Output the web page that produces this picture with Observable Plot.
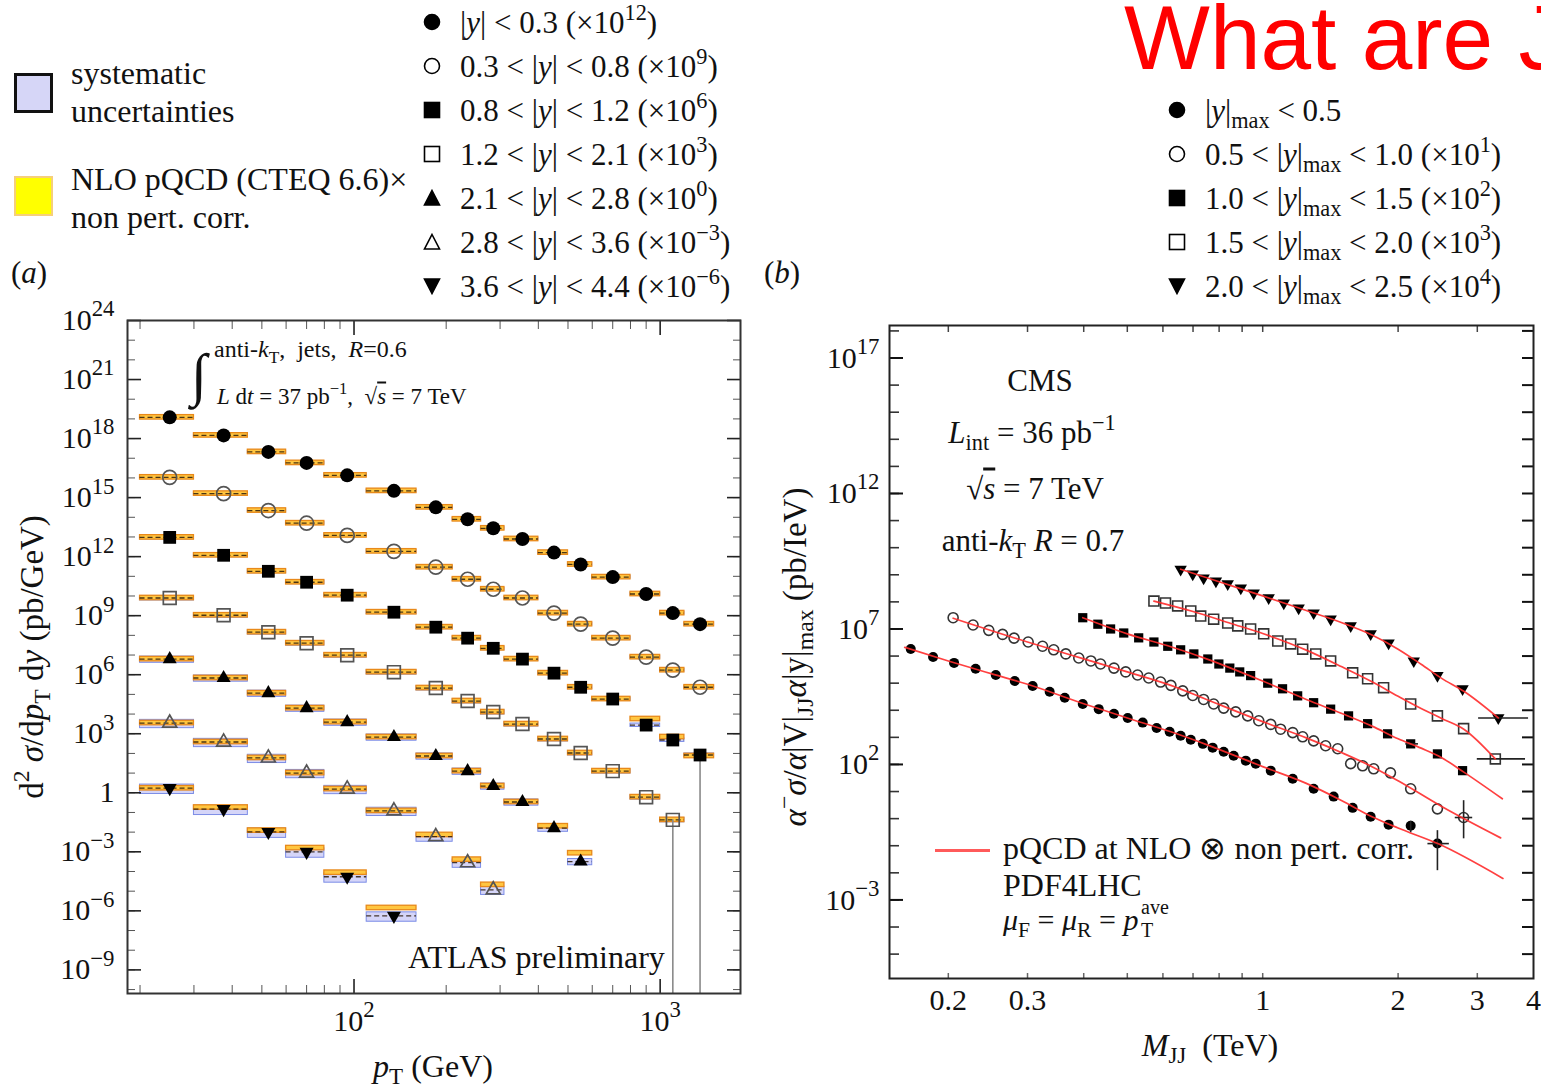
<!DOCTYPE html>
<html><head><meta charset="utf-8">
<script src="https://cdn.jsdelivr.net/npm/d3@7"></script>
<script src="https://cdn.jsdelivr.net/npm/@observablehq/plot@0.6"></script>
<style>
body{margin:0;background:#fff;}
#page{position:relative;width:1541px;height:1089px;overflow:hidden;font-family:"Liberation Serif","Times New Roman",serif;color:#111;background:#fff;}
.t{position:absolute;white-space:nowrap;line-height:1;}
.t sup,.t sub{font-size:0.72em;line-height:0;}
.t sup{vertical-align:0.55em;}
.t sub{vertical-align:-0.32em;}
.abs{position:absolute;}
</style></head>
<body><div id="page"></div>
<script>
// ================= Panel (a): ATLAS inclusive jets =================
const ptEdges = [20,30,45,60,80,110,160,210,260,310,400,500,600,800,1000,1200,1500];
const rapLabelsA = ["|<i>y</i>| &lt; 0.3","0.3 &lt; |<i>y</i>| &lt; 0.8","0.8 &lt; |<i>y</i>| &lt; 1.2","1.2 &lt; |<i>y</i>| &lt; 2.1","2.1 &lt; |<i>y</i>| &lt; 2.8","2.8 &lt; |<i>y</i>| &lt; 3.6","3.6 &lt; |<i>y</i>| &lt; 4.4"];
const scaleExpA = ["12","9","6","3","0","\u22123","\u22126"];
// measured points (already multiplied by the scale factor)
const dataA1 = [1.2e19,1.45e18,2.1e17,5.8e16,1.35e16,2.2e15,3.2e14,7.9e13,2.75e13,7.9e12,1.6e12,4.0e11,9.1e10,1.26e10,1.35e9,3.7e8];
const dataA2 = [1.07e16,1.6e15,2.2e14,5.0e13,1.2e13,1.86e12,2.9e11,7.1e10,2.2e10,7.9e9,1.35e9,3.7e8,7.2e7,7.8e6,1.7e6,2.3e5];
const dataA3 = [9.5e12,1.17e12,1.8e11,5.0e10,1.1e10,1.5e9,2.6e8,7.2e7,2.2e7,6.2e6,1.2e6,2.3e5,5.8e4,2.75e3,480,83];
const dataA4 = [7.9e9,1.05e9,1.45e8,4.0e7,9.8e6,1.35e6,2.1e5,4.6e4,1.26e4,3.1e3,540,105,12.6,0.6,0.042];
const dataA5 = [6.2e6,6.8e5,1.15e5,2.0e4,3.9e3,680,74,12.6,2.2,0.34,0.016,3.2e-4];
const dataA6 = [3.5e3,380,59,10,1.55,0.12,5.9e-3,2.8e-4,1.17e-5];
const dataA7 = [1.74,0.148,0.0102,1.0e-3,5.4e-5,5.6e-7];
// NLO pQCD x non-pert. corrections
const nloA1 = [1.2e19,1.45e18,2.1e17,5.8e16,1.35e16,2.2e15,3.2e14,7.9e13,2.75e13,7.9e12,1.6e12,4.0e11,9.1e10,1.26e10,1.35e9,3.7e8];
const nloA2 = [1.07e16,1.6e15,2.2e14,5.0e13,1.2e13,1.86e12,2.9e11,7.1e10,2.2e10,7.9e9,1.35e9,3.7e8,7.2e7,7.8e6,1.7e6,2.3e5];
const nloA3 = [9.5e12,1.17e12,1.8e11,5.0e10,1.1e10,1.5e9,2.6e8,7.2e7,2.2e7,6.2e6,1.2e6,2.3e5,5.8e4,5.6e3,680,74];
const nloA4 = [7.9e9,1.05e9,1.45e8,4.0e7,9.8e6,1.35e6,2.1e5,4.6e4,1.26e4,3.1e3,540,105,12.6,0.6,0.042];
const nloA5 = [6.2e6,6.8e5,1.15e5,2.0e4,3.9e3,680,74,12.6,2.2,0.34,0.02,8.5e-4];
const nloA6 = [3.5e3,380,59,10,1.55,0.12,7.2e-3,4.0e-4,2.1e-5];
const nloA7 = [1.7,0.178,0.012,1.55e-3,8.7e-5,1.4e-6];
// relative systematic uncertainty per rapidity bin
const sysRelA = [0.15,0.15,0.2,0.25,0.35,0.45,0.5];
// points whose lower error reaches zero: [series index, bin index]
const errToZeroA = [[3,14],[2,15]];

// ================= Panel (b): CMS dijet mass =================
const rapLabelsB = ["|<i>y</i>|<sub>max</sub> &lt; 0.5","0.5 &lt; |<i>y</i>|<sub>max</sub> &lt; 1.0","1.0 &lt; |<i>y</i>|<sub>max</sub> &lt; 1.5","1.5 &lt; |<i>y</i>|<sub>max</sub> &lt; 2.0","2.0 &lt; |<i>y</i>|<sub>max</sub> &lt; 2.5"];
const scaleExpB = [null,"1","2","3","4"];
const mjjB1 = [0.165,0.185,0.206,0.230,0.255,0.281,0.308,0.336,0.363,0.398,0.432,0.467,0.501,0.541,0.581,0.621,0.657,0.692,0.736,0.774,0.819,0.862,0.917,0.965,1.042,1.166,1.298,1.438,1.585,1.738,1.905,2.133,2.446];
const valB1 = [1.82e6,9.3e5,5.6e5,3.4e5,2.0e5,1.2e5,7.9e4,4.8e4,2.9e4,1.7e4,1.1e4,7.4e3,5.2e3,3.5e3,2.2e3,1.6e3,1.15e3,810,575,417,295,209,138,107,59,29.5,12.6,6.5,2.5,1.17,0.60,0.55,0.12];
const mjjB2 = [0.205,0.227,0.246,0.264,0.280,0.301,0.324,0.343,0.365,0.390,0.415,0.436,0.467,0.496,0.527,0.558,0.593,0.625,0.664,0.699,0.739,0.778,0.819,0.871,0.926,0.980,1.042,1.096,1.166,1.227,1.298,1.380,1.468,1.569,1.668,1.765,1.923,2.133,2.446,2.797];
const valB2 = [2.6e7,1.4e7,8.9e6,6.3e6,4.6e6,3.3e6,2.3e6,1.7e6,1.2e6,8.5e5,6.6e5,5.1e5,3.6e5,2.6e5,2.0e5,1.55e5,1.1e5,8.3e4,5.2e4,3.5e4,2.5e4,1.7e4,1.2e4,8.7e3,6.2e3,4.1e3,3.0e3,2.0e3,1.5e3,1.05e3,740,490,380,107,89,69,49,12.6,2.3,1.1];
const mjjB3 = [0.398,0.430,0.459,0.491,0.530,0.573,0.615,0.657,0.703,0.755,0.799,0.845,0.889,0.940,1.026,1.107,1.196,1.298,1.416,1.552,1.711,1.895,2.133,2.446,2.782];
const valB3 = [2.6e7,1.5e7,1.0e7,7.1e6,4.7e6,3.3e6,2.3e6,1.7e6,1.2e6,7.8e5,5.1e5,3.6e5,2.6e5,1.9e5,1.0e5,6.2e4,3.4e4,1.9e4,1.1e4,6.2e3,3.2e3,1.35e3,575,245,59];
const mjjB4 = [0.573,0.608,0.647,0.692,0.728,0.778,0.836,0.880,0.940,1.005,1.080,1.154,1.227,1.312,1.416,1.585,1.711,1.857,2.133,2.446,2.797,3.29];
const valB4 = [1.07e8,9.1e7,7.1e7,4.6e7,3.0e7,2.3e7,1.66e7,1.3e7,1.0e7,6.6e6,3.6e6,2.8e6,1.8e6,1.2e6,6.6e5,2.4e5,1.45e5,6.8e4,1.7e4,6.2e3,2.1e3,160];
const mjjB5 = [0.657,0.699,0.739,0.787,0.836,0.894,0.955,1.031,1.114,1.202,1.298,1.416,1.569,1.738,1.905,2.167,2.446,2.782,3.34];
const valB5 = [1.6e9,1.07e9,7.6e8,5.9e8,4.6e8,3.2e8,2.1e8,1.4e8,9.1e7,5.9e7,3.9e7,2.3e7,1.3e7,6.6e6,3.0e6,6.6e5,1.9e5,6.2e4,5.2e3];
// pQCD NLO x non-pert. corrections (red curves)
const thMB1 = [0.16,0.2,0.25,0.3,0.4,0.5,0.625,0.75,1.0,1.25,1.5,1.75,2.0,2.45,3.42];
const thVB1 = [2.1e6,6.6e5,2.2e5,9.1e4,1.74e4,5.2e3,1.6e3,540,83,20,4.6,1.17,0.45,0.12,6.2e-3];
const thMB2 = [0.205,0.3,0.4,0.5,0.625,0.75,1.0,1.25,1.5,1.75,2.0,2.5,3.38];
const thVB2 = [2.5e7,3.3e6,7.9e5,2.6e5,8.3e4,2.5e4,3.8e3,955,270,83,25,2.8,0.195];
const thMB3 = [0.398,0.5,0.625,0.75,1.0,1.25,1.5,1.75,2.0,2.25,2.5,2.8,3.41];
const thVB3 = [2.6e7,6.6e6,2.2e6,7.9e5,1.2e5,2.5e4,7.6e3,2.6e3,890,400,178,52,5.4];
const thMB4 = [0.573,0.7,0.85,1.0,1.25,1.5,1.75,2.0,2.25,2.5,2.8,3.29];
const thVB4 = [1.07e8,4.4e7,1.6e7,6.8e6,1.66e6,4.0e5,1.12e5,3.3e4,1.17e4,5.0e3,2.0e3,160];
const thMB5 = [0.657,0.8,1.0,1.25,1.5,1.75,2.0,2.25,2.5,2.8,3.34];
const thVB5 = [1.6e9,5.5e8,1.66e8,4.8e7,1.7e7,6.0e6,1.8e6,5.0e5,1.5e5,5.0e4,5.2e3];
// error bars
const errVB = [{m:2.446,lo:0.012,hi:0.36},{m:2.797,lo:0.18,hi:4.6},{m:2.133,lo:0.3,hi:0.8}];
const errHB = [{v:5.2e3,m1:3.02,m2:3.9},{v:160,m1:3.0,m2:3.84},{v:0.12,m1:2.33,m2:2.6},{v:1.1,m1:2.68,m2:2.93},{v:575,m1:2.08,m2:2.22}];

// ================= helpers =================
const SERIF = '"Liberation Serif","Times New Roman",serif';
const page = document.getElementById("page");
const sq3 = Math.sqrt(3);
const triDown = {draw(ctx, size){ const y = -Math.sqrt(size/(sq3*3)); ctx.moveTo(0,-y*2); ctx.lineTo(-sq3*y, y); ctx.lineTo(sq3*y, y); ctx.closePath(); }};
const fmtPow = d => { const e = Math.round(Math.log10(d)); return e === 0 ? "1" : "10^" + (e < 0 ? "\u2212" + (-e) : e); };
const blank = () => "";

function supify(svg){
  d3.select(svg).selectAll('g[aria-label$="tick label"] text').each(function(){
    const s = this.textContent; const i = s.indexOf("^");
    if (i < 0) return;
    const el = d3.select(this); el.text(null);
    el.append("tspan").text(s.slice(0,i));
    el.append("tspan").attr("dy","-0.6em").attr("font-size","0.76em").text(s.slice(i+1));
  });
}
function place(el, left, top){ el.style.position="absolute"; el.style.left=left+"px"; el.style.top=top+"px"; page.appendChild(el); }
function txt(html, x, y, size, mode, extra){
  const d = document.createElement("div"); d.className = "t"; d.innerHTML = html;
  d.style.left = x+"px"; d.style.top = y+"px"; d.style.fontSize = size+"px";
  d.style.transform = mode==="c" ? "translate(-50%,-50%)" : mode==="r" ? "translate(-50%,-50%) rotate(-90deg)" : "translateY(-50%)";
  if (extra) Object.assign(d.style, extra);
  page.appendChild(d); return d;
}
function symSVG(kind, filled, cx, cy, s){
  const h = s/2, f = filled ? "#000" : "#fff", sw = 1.6;
  let shape = "";
  if (kind==="circle") shape = `<circle cx="${h}" cy="${h}" r="${h-1.5}" fill="${f}" stroke="#000" stroke-width="${sw}"/>`;
  if (kind==="square") shape = `<rect x="1.5" y="1.5" width="${s-3}" height="${s-3}" fill="${f}" stroke="#000" stroke-width="${sw}"/>`;
  if (kind==="triangle") shape = `<polygon points="${h},1.5 ${s-1.5},${s-2} 1.5,${s-2}" fill="${f}" stroke="#000" stroke-width="${sw}"/>`;
  if (kind==="tridown") shape = `<polygon points="1.5,2 ${s-1.5},2 ${h},${s-1.5}" fill="${f}" stroke="#000" stroke-width="${sw}"/>`;
  const d = document.createElement("div"); d.className="abs";
  d.innerHTML = `<svg width="${s}" height="${s}">${shape}</svg>`;
  d.style.left = (cx-h)+"px"; d.style.top = (cy-h)+"px"; d.style.lineHeight="0";
  page.appendChild(d);
}

// ================= Panel (a) plot =================
const seriesA = [
  {values:dataA1, theory:nloA1},{values:dataA2, theory:nloA2},{values:dataA3, theory:nloA3},
  {values:dataA4, theory:nloA4},{values:dataA5, theory:nloA5},{values:dataA6, theory:nloA6},{values:dataA7, theory:nloA7}];
const styleA = [
  {sym:"circle", filled:true, r:7},{sym:"circle", filled:false, r:7},
  {sym:"square", filled:true, r:7.2},{sym:"square", filled:false, r:7.2},
  {sym:"triangle", filled:true, r:5.2},{sym:"triangle", filled:false, r:5.2},
  {sym:triDown, filled:true, r:5.2}];
const rowsA = [];
seriesA.forEach((s, si) => s.values.forEach((v, i) => rowsA.push({
  s: si, x1: ptEdges[i], x2: ptEdges[i+1], xc: (ptEdges[i]+ptEdges[i+1])/2, v, th: s.theory[i], sys: sysRelA[si]})));
const errRowsA = errToZeroA.map(([s,b]) => ({x:(ptEdges[b]+ptEdges[b+1])/2, y: seriesA[s].values[b]}));
const yMinA = Math.pow(10,-10.2);
const decA = d3.range(-10,25).map(e => Math.pow(10,e));
const majA = d3.range(-9,25,3).map(e => Math.pow(10,e));
const xMinorA = [20,30,40,50,60,70,80,90,200,300,400,500,600,700,800,900];
const xMajorA = [100,1000];

const marksA = [
  Plot.rect(rowsA, {x1:"x1", x2:"x2", y1:d=>d.v*(1-d.sys), y2:d=>d.v*(1+d.sys), fill:"#d5d5f8", stroke:"#7b8ce6", strokeWidth:1}),
  Plot.rect(rowsA, {x1:"x1", x2:"x2", y1:d=>d.th/1.3, y2:d=>d.th*1.3, fill:"#ffc640", stroke:"#e8891a", strokeWidth:1.3}),
  Plot.ruleY(rowsA, {y:"v", x1:"x1", x2:"x2", stroke:"#2a1a0a", strokeWidth:1.3, strokeDasharray:"5,3", strokeOpacity:0.85}),
  Plot.ruleX(errRowsA, {x:"x", y1:"y", y2:yMinA, stroke:"#8a8a8a", strokeWidth:1.6})
];
styleA.forEach((st, si) => marksA.push(Plot.dot(rowsA.filter(d => d.s===si), {
  x:"xc", y:"v", symbol: st.sym, r: st.r,
  fill: st.filled ? "#000" : "none", stroke: st.filled ? "none" : "#555", strokeWidth: 1.7})));
marksA.push(
  Plot.axisY(decA, {anchor:"left", tickSize:-8, tickFormat:blank, label:null, stroke:"#555"}),
  Plot.axisY(majA, {anchor:"left", tickSize:-14, tickFormat:blank, label:null, stroke:"#222", strokeWidth:1.6}),
  Plot.axisY(decA, {anchor:"right", tickSize:-8, tickFormat:blank, label:null, stroke:"#555"}),
  Plot.axisY(majA, {anchor:"right", tickSize:-14, tickFormat:blank, label:null, stroke:"#222", strokeWidth:1.6}),
  Plot.axisY(majA, {anchor:"left", tickSize:0, tickPadding:13, tickFormat:fmtPow, fontSize:30, label:null, fill:"#111"}),
  Plot.axisX(xMinorA, {anchor:"bottom", tickSize:-8, tickFormat:blank, label:null, stroke:"#555"}),
  Plot.axisX(xMajorA, {anchor:"bottom", tickSize:-14, tickFormat:blank, label:null, stroke:"#222", strokeWidth:1.6}),
  Plot.axisX(xMinorA, {anchor:"top", tickSize:-8, tickFormat:blank, label:null, stroke:"#555"}),
  Plot.axisX(xMajorA, {anchor:"top", tickSize:-14, tickFormat:blank, label:null, stroke:"#222", strokeWidth:1.6}),
  Plot.axisX(xMajorA, {anchor:"bottom", tickSize:0, tickPadding:16, tickFormat:fmtPow, fontSize:30, label:null, fill:"#111"}),
  Plot.frame({stroke:"#333", strokeWidth:2})
);
const plotA = Plot.plot({
  width:760, height:789, marginLeft:127, marginRight:20, marginTop:20, marginBottom:96,
  style:{fontFamily:SERIF, background:"transparent", overflow:"visible"},
  x:{type:"log", domain:[18.2,1830], label:null},
  y:{type:"log", domain:[yMinA,1e24], label:null},
  marks: marksA
});
supify(plotA);
place(plotA, 0, 300);

// ================= Panel (b) plot =================
const seriesB = [
  {m:mjjB1, v:valB1, tm:thMB1, tv:thVB1},{m:mjjB2, v:valB2, tm:thMB2, tv:thVB2},
  {m:mjjB3, v:valB3, tm:thMB3, tv:thVB3},{m:mjjB4, v:valB4, tm:thMB4, tv:thVB4},{m:mjjB5, v:valB5, tm:thMB5, tv:thVB5}];
const styleB = [
  {sym:"circle", filled:true, r:5},{sym:"circle", filled:false, r:5},
  {sym:"square", filled:true, r:5.2},{sym:"square", filled:false, r:5.6},{sym:triDown, filled:true, r:4.6}];
const yMinB = Math.pow(10,-5.9), yMaxB = Math.pow(10,18.2);
const decB = d3.range(-5,19).map(e => Math.pow(10,e));
const majB = [1e17,1e12,1e7,1e2,1e-3];
const xMinorB = [0.2,0.3,0.4,0.5,0.6,0.7,0.8,0.9,1,2,3];
const xLabB = [0.2,0.3,1,2,3,4];
const marksB = [];
seriesB.forEach((s, si) => {
  const pts = s.m.map((m,i) => ({m, v:s.v[i]}));
  const st = styleB[si];
  marksB.push(Plot.dot(pts, {x:"m", y:"v", symbol:st.sym, r:st.r,
    fill: st.filled ? "#000" : "none", stroke: st.filled ? "none" : "#333", strokeWidth:1.6}));
});
marksB.push(
  Plot.ruleX(errVB, {x:"m", y1:"lo", y2:"hi", stroke:"#222", strokeWidth:1.6}),
  Plot.ruleY(errHB, {y:"v", x1:"m1", x2:"m2", stroke:"#222", strokeWidth:1.6})
);
seriesB.forEach(s => {
  const th = s.tm.map((m,i) => ({m, v:s.tv[i]}));
  marksB.push(Plot.line(th, {x:"m", y:"v", curve:"monotone-x", stroke:"#ff2b2b", strokeWidth:1.7, strokeOpacity:0.9}));
});
marksB.push(
  Plot.axisY(decB, {anchor:"left", tickSize:-10, tickFormat:blank, label:null, stroke:"#333", strokeWidth:1.6}),
  Plot.axisY(majB, {anchor:"left", tickSize:-14, tickFormat:blank, label:null, stroke:"#111", strokeWidth:2}),
  Plot.axisY(decB, {anchor:"right", tickSize:-12, tickFormat:blank, label:null, stroke:"#111", strokeWidth:2}),
  Plot.axisY(majB, {anchor:"left", tickSize:0, tickPadding:10, tickFormat:fmtPow, fontSize:30, label:null, fill:"#111"}),
  Plot.axisX(xMinorB, {anchor:"bottom", tickSize:-5, tickFormat:blank, label:null, stroke:"#666", strokeWidth:1.5}),
  Plot.axisX(xMinorB, {anchor:"top", tickSize:-6, tickFormat:blank, label:null, stroke:"#444", strokeWidth:1.5}),
  Plot.axisX(xLabB, {anchor:"bottom", tickSize:0, tickPadding:10, tickFormat:d => String(d), fontSize:30, label:null, fill:"#111"}),
  Plot.frame({stroke:"#222", strokeWidth:2})
);
const plotB = Plot.plot({
  width:771, height:789, marginLeft:119, marginRight:8, marginTop:25, marginBottom:111,
  style:{fontFamily:SERIF, background:"transparent", overflow:"visible"},
  x:{type:"log", domain:[0.148,4], label:null},
  y:{type:"log", domain:[yMinB,yMaxB], label:null},
  marks: marksB
});
supify(plotB);
place(plotB, 770, 300);

// ================= texts: panel (a) =================
txt('d<sup>2</sup> <i>σ</i>/d<i>p</i><sub>T</sub> d<i>y</i> (pb/GeV)', 32, 657, 33, "r");
txt('<i>p</i><sub>T</sub> (GeV)', 433, 1066, 32, "c");
txt('anti-<i>k</i><sub>T</sub>,&nbsp; jets,&nbsp; <i>R</i>=0.6', 214, 349, 24);
txt('∫', 191, 375, 58, null, {fontStyle:"italic"});
txt('<i>L</i> d<i>t</i> = 37 pb<sup>−1</sup>,&nbsp; √<span style="text-decoration:overline"><i>s</i></span> = 7 TeV', 217, 396, 23);
txt('ATLAS preliminary', 408, 957, 32);
// legend (a)
const boxSys = document.createElement("div"); boxSys.className="abs";
Object.assign(boxSys.style,{left:"14px",top:"73px",width:"33px",height:"34px",background:"#d6d6f7",border:"3px solid #111"});
page.appendChild(boxSys);
const boxNlo = document.createElement("div"); boxNlo.className="abs";
Object.assign(boxNlo.style,{left:"14px",top:"176px",width:"35px",height:"36px",background:"#ffff00",border:"2px solid #f6cf7a"});
page.appendChild(boxNlo);
txt('systematic', 71, 73, 32);
txt('uncertainties', 71, 111, 32);
txt('NLO pQCD (CTEQ 6.6)×', 71, 179, 32);
txt('non pert. corr.', 71, 217, 32);
txt('(<i>a</i>)', 11, 272, 31);
const symKindsA = [["circle",true],["circle",false],["square",true],["square",false],["triangle",true],["triangle",false],["tridown",true]];
rapLabelsA.forEach((lab, i) => {
  const y = 22 + 44*i;
  symSVG(symKindsA[i][0], symKindsA[i][1], 432, y, 18);
  txt(`${lab} (×10<sup>${scaleExpA[i]}</sup>)`, 460, y, 31);
});

// ================= texts: panel (b) =================
txt('<span style="font-family:\'Liberation Sans\',Arial,sans-serif">What are Jets?</span>', 1124, 38, 91, null, {color:"#ff0000"});
txt('(<i>b</i>)', 764, 272, 31);
const symKindsB = [["circle",true],["circle",false],["square",true],["square",false],["tridown",true]];
rapLabelsB.forEach((lab, i) => {
  const y = 110 + 44*i;
  symSVG(symKindsB[i][0], symKindsB[i][1], 1177, y, 18);
  txt(scaleExpB[i] === null ? lab : `${lab} (×10<sup>${scaleExpB[i]}</sup>)`, 1205, y, 31);
});
txt('CMS', 1040, 380, 31, "c");
txt('<i>L</i><sub>int</sub> = 36 pb<sup>−1</sup>', 1032, 432, 31, "c");
txt('√<span style="text-decoration:overline"><i>s</i></span> = 7 TeV', 1035, 488, 31, "c");
txt('anti-<i>k</i><sub>T</sub> <i>R</i> = 0.7', 1033, 540, 31, "c");
const redLine = document.createElement("div"); redLine.className="abs";
Object.assign(redLine.style,{left:"935px",top:"849px",width:"55px",height:"3px",background:"#ff5a5a"});
page.appendChild(redLine);
txt('pQCD at NLO ⊗ non pert. corr.', 1003, 848, 32);
txt('PDF4LHC', 1003, 885, 32);
txt('<i>μ</i><sub>F</sub> = <i>μ</i><sub>R</sub> = <i>p</i>', 1003, 920, 30);
txt('ave', 1141, 907, 20);
txt('T', 1141, 930, 20);
txt('<i>M</i><sub>JJ</sub>&nbsp; (TeV)', 1210, 1045, 32, "c");
txt('<i>α</i><sup>−</sup><i>σ</i>/<i>α</i>|V|<sub>JJ</sub><i>α</i>|y|<sub>max</sub> (pb/IeV)', 795, 657, 33, "r");
</script>
</body></html>
